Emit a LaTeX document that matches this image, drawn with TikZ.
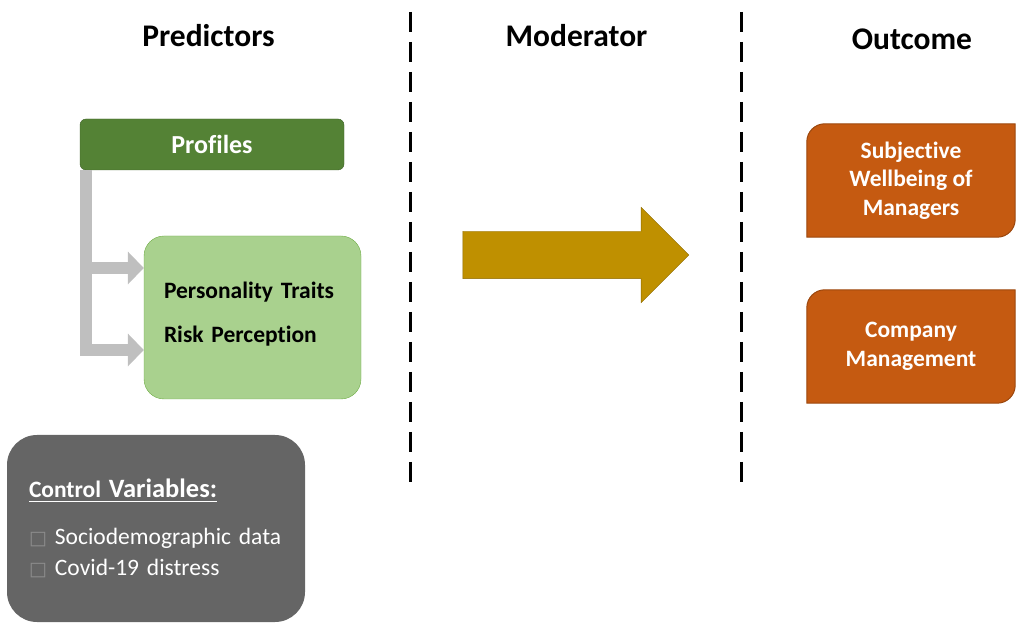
\documentclass[tikz,border=0pt]{standalone}
\usepackage{fontspec}
\setmainfont{Carlito}[Ligatures=NoCommon]
\newfontfamily\symbolfont{DejaVu Sans}
\usepackage{xcolor}
\usetikzlibrary{arrows.meta,shapes.arrows,backgrounds}
\definecolor{profile-green}{HTML}{548235}
\definecolor{profile-edge}{HTML}{3E6128}
\definecolor{trait-green}{HTML}{A9D18E}
\definecolor{trait-edge}{HTML}{70AD47}
\definecolor{feed-gray}{HTML}{BFBFBF}
\definecolor{moderator-gold}{HTML}{BF9000}
\definecolor{moderator-edge}{HTML}{8C6A00}
\definecolor{outcome-orange}{HTML}{C55A11}
\definecolor{outcome-edge}{HTML}{9C470D}
\definecolor{control-gray}{HTML}{656565}
\definecolor{bullet-gray}{HTML}{8C8C8C}
\newsavebox{\headbox}
\newcommand{\ruled}[1]{\sbox{\headbox}{#1}\rlap{\usebox{\headbox}}\rule[-4.5pt]{\wd\headbox}{1.6pt}}
\newcommand{\tofu}{{\color{bullet-gray}\symbolfont\fontsize{19}{20}\selectfont □}\hspace{8pt}}
\tikzset{
    column-title/.style = {anchor=base, font=\fontsize{31.5}{36}\selectfont\bfseries},
    profile-box/.style = {draw=profile-edge, fill=profile-green, rounded corners=6pt, minimum width=264pt, minimum height=51pt, text=white, font=\fontsize{26}{30}\selectfont\bfseries},
    trait-box/.style = {draw=trait-edge, fill=trait-green, rounded corners=20pt, minimum width=217pt, minimum height=163pt, inner xsep=20pt, text width=177pt, align=left, font=\fontsize{23.5}{44}\selectfont\bfseries},
    feed-arrow/.style = {draw=feed-gray, line width=12pt, -{Triangle[length=16pt,width=32pt]}},
    moderator-arrow/.style = {single arrow, draw=moderator-edge, fill=moderator-gold, minimum height=226pt, minimum width=95pt, single arrow head extend=24pt, inner xsep=0pt, inner ysep=23.5pt},
    outcome-box/.style = {minimum width=208pt, minimum height=113pt, text=white, align=center, font=\fontsize{23.5}{28.5}\selectfont\bfseries},
    outcome-edge/.style = {draw=outcome-edge, fill=outcome-orange, line width=1pt},
    control-box/.style = {fill=control-gray, rounded corners=30pt, minimum width=298pt, minimum height=187pt, inner xsep=22pt, text width=254pt, align=left, text=white, font=\fontsize{23.5}{31}\selectfont},
    separator/.style = {line width=3pt, dash pattern=on 20pt off 10pt},
}

\begin{document}
\begin{tikzpicture}[x=1pt,y=1pt]
\useasboundingbox (0,0) rectangle (1016,623);

\node[column-title] (predictors) at (208.5,576) {Predictors};
\node[column-title] (moderator) at (576.5,576) {Moderator};
\node[column-title] (outcome) at (912,573) {Outcome};

\draw[separator] (410,611) -- (410,136);
\draw[separator] (741,611) -- (741,136);

\node[profile-box] (profiles) at (212,478.5) {Profiles};
\node[trait-box] (traits) at (252.5,305.5) {Personality Traits\\Risk Perception\\[-34pt]\mbox{}};
\coordinate (trunk) at ([xshift=6pt]profiles.south west);
\draw[feed-arrow] (trunk) |- ([yshift=49.5pt]traits.west);
\draw[feed-arrow] (trunk) |- ([yshift=-32.5pt]traits.west);

\node[moderator-arrow] (moderation) at (564,368) {};

\node[outcome-box] (wellbeing) at (911,442.5) {Subjective\\Wellbeing of\\Managers};
\node[outcome-box] (management) at (911,276.5) {Company\\Management};
\begin{scope}[on background layer]
\foreach \n in {wellbeing,management}
    \path[outcome-edge] (\n.north east) -- ([yshift=18pt]\n.south east)
        arc[start angle=0, end angle=-90, radius=18pt] -- (\n.south west)
        -- ([yshift=-18pt]\n.north west) arc[start angle=180, end angle=90, radius=18pt] -- cycle;
\end{scope}

\node[control-box] (controls) at (156,94.5) {\ruled{\bfseries\fontsize{23.5}{28}\selectfont Control \fontsize{26.5}{30}\selectfont Variables:}\\[16pt]
    \tofu Sociodemographic data\\
    \tofu Covid-19 distress};
\end{tikzpicture}
\end{document}
